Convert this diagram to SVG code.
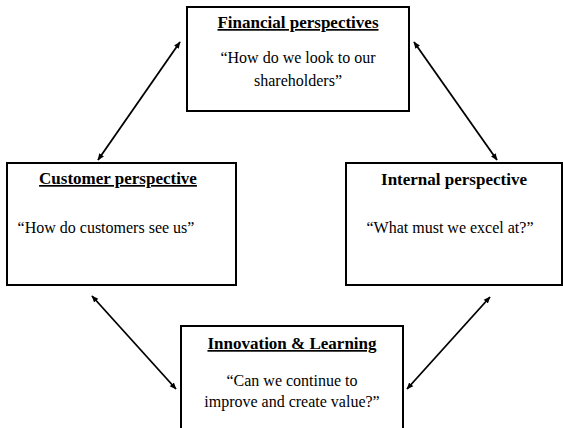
<svg xmlns="http://www.w3.org/2000/svg" width="563" height="428" viewBox="0 0 563 428">
  <style>
    .box { fill: #ffffff; stroke: #000000; stroke-width: 2; }
    .head { font-family: "Liberation Serif", "Times New Roman", serif; font-size: 17px; font-weight: bold; text-anchor: middle; fill: #000000; }
    .ul { text-decoration: underline; }
    .quote { font-family: "Liberation Serif", "Times New Roman", serif; font-size: 16px; text-anchor: middle; fill: #000000; }
    .link { stroke: #000000; stroke-width: 1.8; fill: none; marker-start: url(#tip); marker-end: url(#tip); }
  </style>
  <defs>
    <marker id="tip" viewBox="0 0 10 10" refX="9" refY="5" markerWidth="7" markerHeight="7" markerUnits="userSpaceOnUse" orient="auto-start-reverse">
      <path d="M0,1 L10,5 L0,9 Z" fill="#000000"/>
    </marker>
  </defs>
  <rect width="563" height="428" fill="#ffffff"/>

  <g id="financial">
    <rect class="box" x="187" y="7" width="222" height="104"/>
    <text class="head ul" x="298" y="28">Financial perspectives</text>
    <text class="quote" x="298" y="63">“How do we look to our</text>
    <text class="quote" x="298" y="86">shareholders”</text>
  </g>

  <g id="customer">
    <rect class="box" x="7" y="163" width="229" height="122"/>
    <text class="head ul" x="118" y="184">Customer perspective</text>
    <text class="quote" x="106" y="233">“How do customers see us”</text>
  </g>

  <g id="internal">
    <rect class="box" x="346" y="163" width="216" height="122"/>
    <text class="head" x="454" y="185">Internal perspective</text>
    <text class="quote" x="450" y="233">“What must we excel at?”</text>
  </g>

  <g id="innovation">
    <rect class="box" x="181" y="326" width="222" height="110"/>
    <text class="head ul" x="292" y="349">Innovation &amp; Learning</text>
    <text class="quote" x="292" y="386">“Can we continue to</text>
    <text class="quote" x="292" y="407">improve and create value?”</text>
  </g>

  <g id="connectors">
    <line class="link" x1="98" y1="160" x2="180" y2="42"/>
    <line class="link" x1="414" y1="42" x2="497" y2="160"/>
    <line class="link" x1="92" y1="296" x2="176" y2="389"/>
    <line class="link" x1="490" y1="297" x2="407" y2="389"/>
  </g>
</svg>
